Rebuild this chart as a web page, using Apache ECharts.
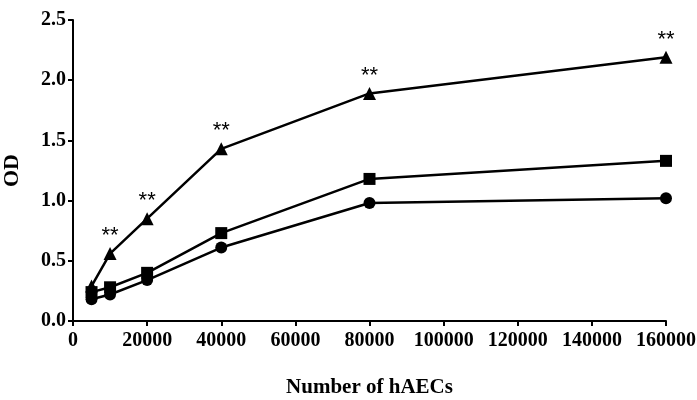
<!DOCTYPE html>
<html>
<head>
<meta charset="utf-8">
<script src="https://cdn.jsdelivr.net/npm/echarts@6/dist/echarts.min.js"></script>
<style>
	html, body { margin: 0; padding: 0; background: #fff; }
	#main { width: 697px; height: 400px; }
</style>
</head>
<body>
<div id="main"></div>
<script>
// cell numbers on the x axis
var cells = [5000, 10000, 20000, 40000, 80000, 160000];
// OD readings, one list per group
var odTriangle = [0.29, 0.56, 0.85, 1.43, 1.89, 2.19];
var odSquare = [0.24, 0.28, 0.40, 0.73, 1.18, 1.33];
var odCircle = [0.18, 0.22, 0.34, 0.61, 0.98, 1.02];
// significance marks over the triangle line
var sigMarks = ['', '**', '**', '**', '**', '**'];

var serif = '"Liberation Serif", "Times New Roman", serif';

function pairs(ys) {
	return cells.map(function(x, i) {
		return [x, ys[i]];
	});
}

var chart = echarts.init(document.getElementById('main'));

function lineSeries(name, symbol, size, ys) {
	return {
		name: name,
		type: 'line',
		data: pairs(ys),
		symbol: symbol,
		symbolSize: size,
		showAllSymbol: true,
		itemStyle: { color: '#000' },
		lineStyle: { color: '#000', width: 2.5 },
		animation: false
	};
}

var triSeries = lineSeries('triangle', 'triangle', 13, odTriangle);
triSeries.label = {
	show: true,
	position: 'top',
	distance: 0,
	formatter: function(p) {
		return sigMarks[p.dataIndex];
	},
	color: '#000',
	fontSize: 22,
	fontFamily: '"Liberation Sans", Arial, sans-serif'
};

var option = {
	backgroundColor: '#fff',
	grid: {
		left: 73,
		right: 31,
		top: 20,
		bottom: 79,
		containLabel: false,
		outerBoundsMode: 'none'
	},
	xAxis: {
		type: 'value',
		min: 0,
		max: 160000,
		interval: 20000,
		name: 'Number of hAECs',
		nameLocation: 'middle',
		nameGap: 56,
		nameTextStyle: {
			color: '#000',
			fontSize: 21,
			fontWeight: 'bold',
			fontFamily: serif
		},
		axisLine: { lineStyle: { color: '#000', width: 2 } },
		axisTick: { inside: false, length: 5, lineStyle: { color: '#000', width: 2 } },
		axisLabel: {
			color: '#000',
			fontSize: 20,
			fontWeight: 'bold',
			fontFamily: serif,
			margin: 10,
			formatter: function(v) {
				return String(v);
			}
		},
		splitLine: { show: false }
	},
	yAxis: {
		type: 'value',
		min: 0,
		max: 2.5,
		interval: 0.5,
		name: 'OD',
		nameLocation: 'middle',
		nameGap: 50,
		nameRotate: 90,
		nameTextStyle: {
			color: '#000',
			fontSize: 22,
			fontWeight: 'bold',
			fontFamily: serif
		},
		axisLine: { show: true, lineStyle: { color: '#000', width: 2 } },
		axisTick: { show: true, length: 5, lineStyle: { color: '#000', width: 2 } },
		axisLabel: {
			color: '#000',
			fontSize: 20,
			fontWeight: 'bold',
			fontFamily: serif,
			margin: 7,
			formatter: function(v) {
				return v.toFixed(1);
			}
		},
		splitLine: { show: false }
	},
	series: [
		lineSeries('circle', 'circle', 12, odCircle),
		lineSeries('square', 'rect', 12, odSquare),
		triSeries
	]
};

chart.setOption(option);
</script>
</body>
</html>
